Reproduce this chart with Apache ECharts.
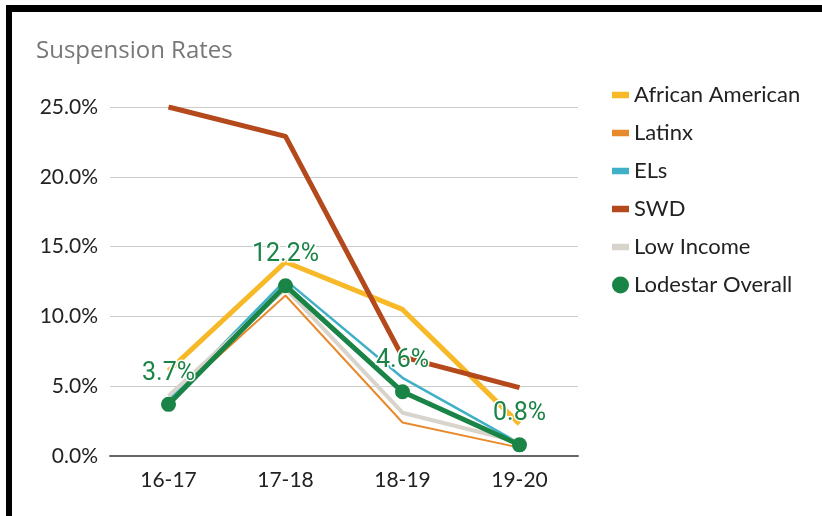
<!DOCTYPE html>
<html>
<head>
<meta charset="utf-8">
<script src="https://cdn.jsdelivr.net/npm/echarts@6/dist/echarts.min.js"></script>
<style>
  html, body { margin: 0; padding: 0; background: #fff; }
  #frame {
    position: absolute; left: 6px; top: 5px; width: 816px; height: 511px;
    border-top: 7px solid #000; border-left: 6px solid #000; box-sizing: border-box;
  }
  #chart { position: absolute; left: 0; top: 0; width: 822px; height: 516px; }
</style>
</head>
<body>
<div id="chart"></div>
<div id="frame"></div>
<script>
// data
const years = ["16-17", "17-18", "18-19", "19-20"];
const africanAmerican = [6.1, 13.9, 10.5, 2.3];
const latinx = [3.9, 11.5, 2.4, 0.6];
const els = [4.0, 12.6, 5.6, 0.9];
const swd = [25.0, 22.9, 7.1, 4.9];
const lowIncome = [4.3, 12.0, 3.1, 1.0];
const overall = [3.7, 12.2, 4.6, 0.8];

const chart = echarts.init(document.getElementById("chart"));

// thin bar inside a 16x16 box (corner specks keep the box square)
const DASH = "path://M0,0h0.01v0.01h-0.01z M0,5h16v6h-16z M15.99,15.99h0.01v0.01h-0.01z";

function lineSeries(name, data, color, width) {
  return {
    name, type: "line", data,
    symbol: "none",
    lineStyle: { color, width },
    itemStyle: { color },
  };
}

chart.setOption({
  animation: false,
  title: {
    text: "Suspension Rates",
    left: 31, top: 34,
    textStyle: { fontFamily: "Open Sans", fontSize: 24, fontWeight: "normal", color: "#777" },
  },
  legend: {
    orient: "vertical",
    left: 607, top: 79,
    itemGap: 16,
    itemWidth: 17, itemHeight: 17,
    textStyle: { fontFamily: "Lato", fontSize: 22, color: "#222" },
    data: [
      { name: "African American", icon: DASH },
      { name: "Latinx", icon: DASH },
      { name: "ELs", icon: DASH },
      { name: "SWD", icon: DASH },
      { name: "Low Income", icon: DASH },
      { name: "Lodestar Overall", icon: "circle" },
    ],
  },
  grid: { left: 110, right: 244, top: 107, bottom: 60, containLabel: false },
  xAxis: {
    type: "category",
    data: years,
    axisLine: { lineStyle: { color: "#666", width: 2 } },
    axisTick: { show: false },
    axisLabel: { fontFamily: "Lato", fontSize: 21, color: "#222", margin: 14 },
  },
  yAxis: {
    type: "value",
    min: 0, max: 25, interval: 5,
    axisLine: { show: false },
    axisTick: { show: false },
    splitLine: { lineStyle: { color: "#ccc", width: 1 } },
    axisLabel: {
      fontFamily: "Lato", fontSize: 21, color: "#222", margin: 12,
      formatter: (v) => v.toFixed(1) + "%",
    },
  },
  series: [
    lineSeries("African American", africanAmerican, "#F7B928", 5),
    lineSeries("Latinx", latinx, "#E88A2C", 2),
    lineSeries("ELs", els, "#3FB0C6", 2.5),
    lineSeries("SWD", swd, "#B4491B", 5),
    lineSeries("Low Income", lowIncome, "#D8D3CB", 4),
    {
      name: "Lodestar Overall", type: "line", data: overall,
      symbol: "circle", symbolSize: 15,
      lineStyle: { color: "#1A8446", width: 5 },
      itemStyle: { color: "#1A8446" },
      label: {
        show: true, position: "top", distance: 11,
        fontFamily: "Roboto", fontSize: 25, color: "#1A8446",
        textBorderColor: "#fff", textBorderWidth: 3,
        formatter: (p) => p.value.toFixed(1) + "%",
      },
    },
  ],
});
</script>
</body>
</html>
